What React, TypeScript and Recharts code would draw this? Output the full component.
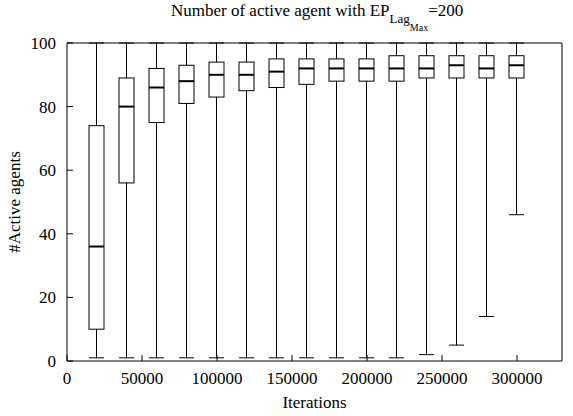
import React from "react";
import { ComposedChart, Bar, XAxis, YAxis } from "recharts";

const FONT = "Liberation Serif, Tinos, Times New Roman, Times, DejaVu Serif, serif";

// box plot stats per sampling point
const iterations = [20000, 40000, 60000, 80000, 100000, 120000, 140000, 160000, 180000, 200000, 220000, 240000, 260000, 280000, 300000];
const minValues = [1, 1, 1, 1, 1, 1, 1, 1, 1, 1, 1, 2, 5, 14, 46];
const q1Values = [10, 56, 75, 81, 83, 85, 86, 87, 88, 88, 88, 89, 89, 89, 89];
const medianValues = [36, 80, 86, 88, 90, 90, 91, 92, 92, 92, 92, 92, 93, 92, 93];
const q3Values = [74, 89, 92, 93, 94, 94, 95, 95, 95, 95, 96, 96, 96, 96, 96];
const maxValues = [100, 100, 100, 100, 100, 100, 100, 100, 100, 100, 100, 100, 100, 100, 100];

const xTicks = [0, 50000, 100000, 150000, 200000, 250000, 300000];
const yTicks = [0, 20, 40, 60, 80, 100];

const data = iterations.map((it, i) => ({
  iter: it,
  range: [minValues[i], maxValues[i]],
  min: minValues[i],
  q1: q1Values[i],
  median: medianValues[i],
  q3: q3Values[i],
  max: maxValues[i],
}));

const BoxShape = (props: any) => {
  const { x, y, width, height, payload } = props;
  const { min, q1, median, q3, max } = payload;
  const top = Math.min(y, y + height);
  const h = Math.abs(height);
  const py = (v: number) => top + (h * (max - v)) / (max - min);
  const cx = x + width / 2;
  const left = x;
  const right = x + width;
  return (
    <g>
      <line x1={cx} x2={cx} y1={py(max)} y2={py(q3)} stroke="#000" strokeWidth={1} />
      <line x1={cx} x2={cx} y1={py(q1)} y2={py(min)} stroke="#000" strokeWidth={1} />
      <line x1={left} x2={right} y1={py(max)} y2={py(max)} stroke="#000" strokeWidth={1} />
      <line x1={left} x2={right} y1={py(min)} y2={py(min)} stroke="#000" strokeWidth={1} />
      <rect x={left} y={py(q3)} width={width} height={py(q1) - py(q3)} fill="none" stroke="#000" strokeWidth={1} />
      <line x1={left} x2={right} y1={py(median)} y2={py(median)} stroke="#000" strokeWidth={2} />
    </g>
  );
};

const textStyle = { fontFamily: FONT, fontSize: 17, fill: "#000" };

const XTick = (props: any) => (
  <text x={props.x} y={props.y} dy="0.71em" textAnchor="middle" style={textStyle}>
    {props.payload.value}
  </text>
);

const YTick = (props: any) => (
  <text x={props.x} y={props.y} dy="0.355em" textAnchor="end" style={textStyle}>
    {props.payload.value}
  </text>
);

export default function App() {
  return (
    <div style={{ position: "absolute", left: 0, top: 0, width: 573, height: 416, background: "#fff", fontFamily: FONT }}>
      <ComposedChart
        width={573}
        height={416}
        data={data}
        margin={{ top: 42, right: 10, bottom: 54, left: 0 }}
      >
        <XAxis
          dataKey="iter"
          type="number"
          domain={[0, 330000]}
          ticks={xTicks}
          interval={0}
          allowDataOverflow
          height={1}
          tickSize={-6}
          tickMargin={17}
          axisLine={{ stroke: "#000" }}
          tickLine={{ stroke: "#000" }}
          tick={<XTick />}
        />
        <XAxis
          xAxisId="top"
          orientation="top"
          type="number"
          domain={[0, 330000]}
          ticks={xTicks}
          interval={0}
          height={1}
          tickSize={-6}
          axisLine={{ stroke: "#000" }}
          tickLine={{ stroke: "#000" }}
          tick={false}
        />
        <YAxis
          type="number"
          domain={[0, 100]}
          ticks={yTicks}
          interval={0}
          width={67}
          tickSize={-6}
          tickMargin={17}
          axisLine={{ stroke: "#000" }}
          tickLine={{ stroke: "#000" }}
          tick={<YTick />}
        />
        <YAxis
          yAxisId="right"
          orientation="right"
          type="number"
          domain={[0, 100]}
          ticks={yTicks}
          interval={0}
          width={1}
          tickSize={-6}
          axisLine={{ stroke: "#000" }}
          tickLine={{ stroke: "#000" }}
          tick={false}
        />
        <Bar dataKey="range" barSize={15} shape={<BoxShape />} isAnimationActive={false} />
      </ComposedChart>
      <svg
        width={573}
        height={416}
        style={{ position: "absolute", left: 0, top: 0, pointerEvents: "none" }}
      >
        <text x={171} y={16} style={{ fontFamily: FONT, fontSize: 17 }} fill="#000">
          Number of active agent with EP
          <tspan dy={7} style={{ fontSize: 13 }}>Lag</tspan>
          <tspan dy={8} style={{ fontSize: 10 }}>Max</tspan>
          <tspan dy={-15} style={{ fontSize: 17 }}>=200</tspan>
        </text>
        <text x={314.5} y={408} textAnchor="middle" style={textStyle}>
          Iterations
        </text>
        <text
          x={20}
          y={202}
          textAnchor="middle"
          transform="rotate(-90, 20, 202)"
          style={textStyle}
        >
          #Active agents
        </text>
      </svg>
    </div>
  );
}
